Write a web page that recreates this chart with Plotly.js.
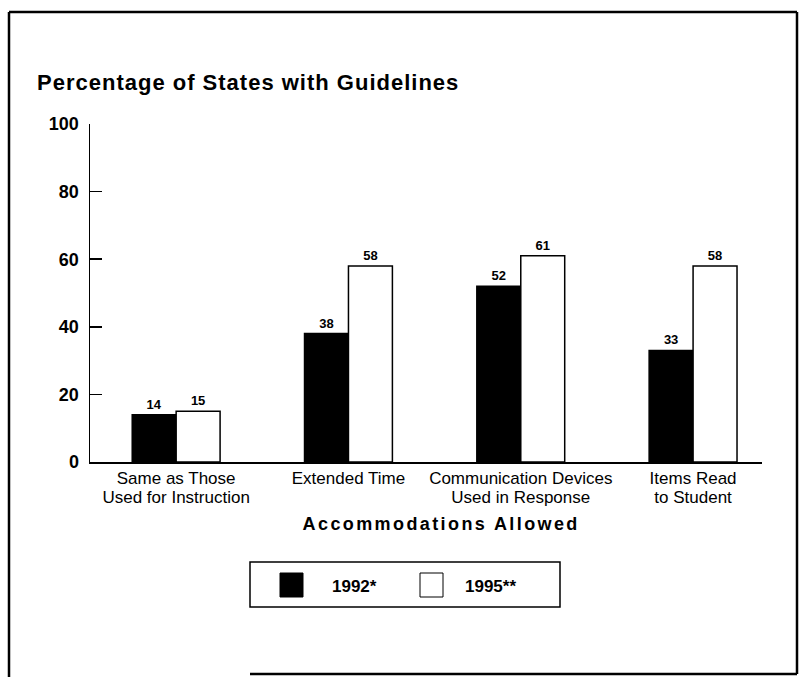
<!DOCTYPE html>
<html>
<head>
<meta charset="utf-8">
<script src="https://cdn.plot.ly/plotly-3.0.1.min.js"></script>
<style>
  html, body { margin: 0; padding: 0; background: #fff; }
  #chart { width: 799px; height: 677px; }
</style>
</head>
<body>
<div id="chart"></div>
<script>
const categories = ["Same as Those<br>Used for Instruction", "Extended Time", "Communication Devices<br>Used in Response", "Items Read<br>to Student"];
const values1992 = [14, 38, 52, 33];
const values1995 = [15, 58, 61, 58];
const seriesNames = ["1992*", "1995**"];
const yTicks = [0, 20, 40, 60, 80, 100];

const FONT = "Liberation Sans, Arial, Helvetica, sans-serif";

// plot area: x 90..762, y 124..462
const L = 90, R = 762, T = 124, B = 462;
const px = v => (v - L) / (R - L);
const py = v => (B - v) / (B - T);

const traces = [
  {
    type: "bar", name: seriesNames[0], x: categories, y: values1992,
    marker: { color: "#000", line: { color: "#000", width: 1.5 } },
    text: values1992.map(String), textposition: "outside", cliponaxis: false,
    textfont: { family: FONT, size: 13, color: "#000", weight: "bold" },
    showlegend: false, hoverinfo: "skip"
  },
  {
    type: "bar", name: seriesNames[1], x: categories, y: values1995,
    marker: { color: "#fff", line: { color: "#000", width: 1.5 } },
    text: values1995.map(String), textposition: "outside", cliponaxis: false,
    textfont: { family: FONT, size: 13, color: "#000", weight: "bold" },
    showlegend: false, hoverinfo: "skip"
  }
];

const shapes = [
  // outer frame
  { type: "line", xref: "paper", yref: "paper", x0: px(9), x1: px(9), y0: py(12), y1: py(677), line: { color: "#000", width: 2.5 } },
  { type: "line", xref: "paper", yref: "paper", x0: px(9), x1: px(797), y0: py(12), y1: py(12), line: { color: "#000", width: 2.5 } },
  { type: "line", xref: "paper", yref: "paper", x0: px(797), x1: px(797), y0: py(12), y1: py(674), line: { color: "#000", width: 2.5 } },
  { type: "line", xref: "paper", yref: "paper", x0: px(250), x1: px(797), y0: py(674), y1: py(674), line: { color: "#000", width: 2.5 } },
  // legend box
  { type: "rect", xref: "paper", yref: "paper", x0: px(250), x1: px(560), y0: py(562), y1: py(607), line: { color: "#000", width: 1.5 }, fillcolor: "rgba(0,0,0,0)" },
  { type: "rect", xref: "paper", yref: "paper", x0: px(280), x1: px(303), y0: py(573), y1: py(597), line: { color: "#000", width: 1 }, fillcolor: "#000" },
  { type: "rect", xref: "paper", yref: "paper", x0: px(420), x1: px(443), y0: py(573), y1: py(597), line: { color: "#000", width: 1 }, fillcolor: "#fff" }
];

const annotations = [
  { xref: "paper", yref: "paper", x: px(441), y: py(524), text: "Accommodations Allowed", showarrow: false,
    xanchor: "center", yanchor: "middle", font: { family: FONT, size: 18, color: "#000", weight: "bold" } },
  { xref: "paper", yref: "paper", x: px(330), y: py(586), text: seriesNames[0], showarrow: false,
    xanchor: "left", yanchor: "middle", font: { family: FONT, size: 17, color: "#000", weight: "bold" } },
  { xref: "paper", yref: "paper", x: px(463), y: py(586), text: seriesNames[1], showarrow: false,
    xanchor: "left", yanchor: "middle", font: { family: FONT, size: 17, color: "#000", weight: "bold" } }
];

const layout = {
  width: 799, height: 677,
  margin: { l: L, r: 799 - R, t: T, b: 677 - B, pad: 0 },
  paper_bgcolor: "#fff", plot_bgcolor: "#fff",
  font: { family: FONT, color: "#000" },
  title: {
    text: "<b>Percentage of States with Guidelines</b>",
    xref: "container", yref: "container", x: 37 / 799, y: 1 - 82 / 677,
    xanchor: "left", yanchor: "middle",
    font: { family: FONT, size: 22, color: "#000" }
  },
  barmode: "group", bargap: 0.49, bargroupgap: 0,
  xaxis: {
    type: "category", range: [-0.5, 3.4], showline: true, linecolor: "#000", linewidth: 2,
    ticks: "", showgrid: false, zeroline: false, fixedrange: true,
    tickfont: { family: FONT, size: 17, color: "#000" }
  },
  yaxis: {
    range: [0, 100], tickvals: yTicks, ticktext: yTicks.map(String),
    showline: true, linecolor: "#000", linewidth: 1.5,
    ticks: "inside", ticklen: 12, tickwidth: 1.5, tickcolor: "#000",
    showgrid: false, zeroline: false, fixedrange: true, ticklabelstandoff: 6,
    tickfont: { family: FONT, size: 18, color: "#000", weight: "bold" }
  },
  shapes: shapes,
  annotations: annotations,
  showlegend: false
};

Plotly.newPlot("chart", traces, layout, { displayModeBar: false, staticPlot: true }).then(gd => {
  const t = gd.querySelectorAll(".annotation-text");
  if (t.length) t[0].style.letterSpacing = "2.4px";
  const title = gd.querySelector(".gtitle");
  if (title) title.style.letterSpacing = "1px";
  gd.querySelectorAll(".xtick text").forEach(txt => {
    const lines = txt.querySelectorAll("tspan.line");
    lines.forEach((ln, i) => { if (i > 0) ln.setAttribute("dy", "1.12em"); });
  });
});
</script>
</body>
</html>
